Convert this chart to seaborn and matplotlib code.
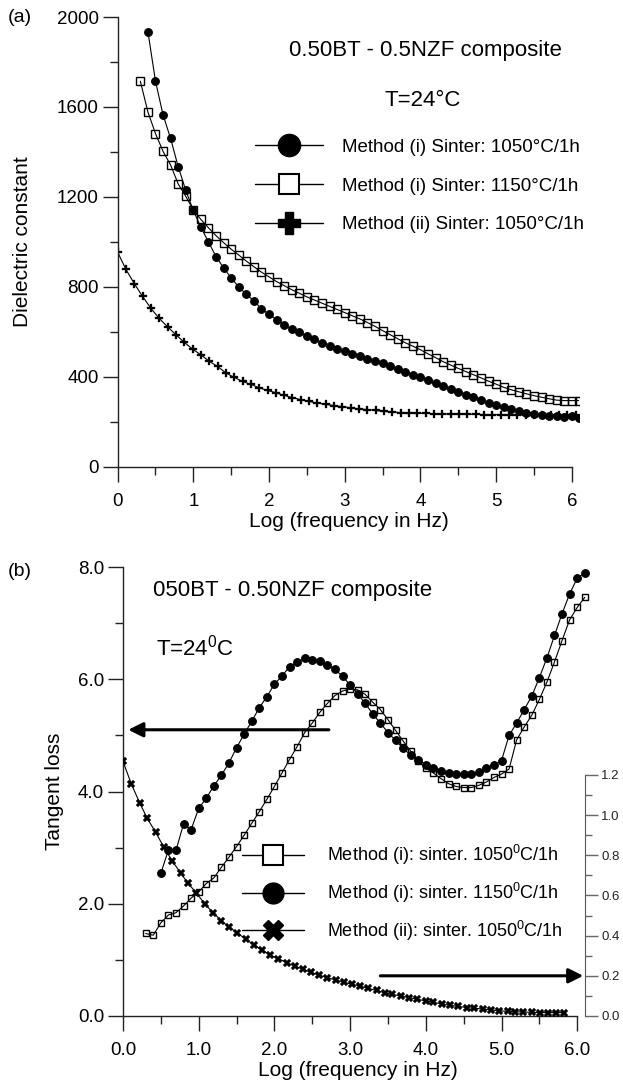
# -*- coding: utf-8 -*-
import matplotlib
matplotlib.use('Agg')
from matplotlib import pyplot as plt
from matplotlib.lines import Line2D
from matplotlib.ticker import MultipleLocator, FixedLocator, FormatStrFormatter
import seaborn as sns

sns.set_style('ticks')
plt.rcParams['font.family'] = ['Liberation Sans', 'DejaVu Sans']
plt.rcParams['mathtext.fontset'] = 'custom'
plt.rcParams['mathtext.rm'] = 'Liberation Sans'
plt.rcParams['mathtext.it'] = 'Liberation Sans'
plt.rcParams['text.color'] = 'black'
plt.rcParams['axes.labelcolor'] = 'black'
plt.rcParams['xtick.color'] = 'black'
plt.rcParams['ytick.color'] = 'black'

# ---------------- panel (a): dielectric constant ----------------
x_a1050 = [0.4, 0.5, 0.6, 0.7, 0.8, 0.9, 1.0, 1.1, 1.2, 1.3, 1.4, 1.5, 1.6, 1.7, 1.8, 1.9,
           2.0, 2.1, 2.2, 2.3, 2.4, 2.5, 2.6, 2.7, 2.8, 2.9, 3.0, 3.1, 3.2, 3.3, 3.4, 3.5,
           3.6, 3.7, 3.8, 3.9, 4.0, 4.1, 4.2, 4.3, 4.4, 4.5, 4.6, 4.7, 4.8, 4.9, 5.0, 5.1,
           5.2, 5.3, 5.4, 5.5, 5.6, 5.7, 5.8, 5.9, 6.0, 6.1]
eps_a1050 = [1935, 1715, 1565, 1460, 1335, 1230, 1140, 1065, 1000, 935, 885, 840, 800, 768,
             738, 703, 678, 655, 632, 614, 598, 582, 567, 553, 538, 526, 514, 503, 492, 481,
             470, 460, 448, 435, 423, 410, 398, 385, 372, 360, 346, 334, 322, 310, 297, 285,
             276, 266, 257, 249, 242, 237, 232, 228, 225, 224, 225, 218]

x_a1150 = [0.3, 0.4, 0.5, 0.6, 0.7, 0.8, 0.9, 1.0, 1.1, 1.2, 1.3, 1.4, 1.5, 1.6, 1.7, 1.8,
           1.9, 2.0, 2.1, 2.2, 2.3, 2.4, 2.5, 2.6, 2.7, 2.8, 2.9, 3.0, 3.1, 3.2, 3.3, 3.4,
           3.5, 3.6, 3.7, 3.8, 3.9, 4.0, 4.1, 4.2, 4.3, 4.4, 4.5, 4.6, 4.7, 4.8, 4.9, 5.0,
           5.1, 5.2, 5.3, 5.4, 5.5, 5.6, 5.7, 5.8, 5.9, 6.0, 6.1]
eps_a1150 = [1715, 1578, 1482, 1403, 1342, 1258, 1203, 1142, 1100, 1063, 1028, 997, 968, 942,
             915, 890, 866, 845, 824, 806, 788, 772, 756, 742, 728, 714, 700, 686, 672, 658,
             642, 625, 606, 588, 570, 552, 537, 521, 503, 486, 468, 453, 438, 424, 410, 396,
             381, 368, 354, 343, 334, 325, 317, 310, 303, 297, 295, 295, 295]

x_aii = [0.00, 0.11, 0.22, 0.33, 0.44, 0.55, 0.66, 0.77, 0.88, 0.99, 1.10, 1.21, 1.32, 1.43,
         1.54, 1.65, 1.76, 1.87, 1.98, 2.09, 2.20, 2.31, 2.42, 2.53, 2.64, 2.75, 2.86, 2.97,
         3.08, 3.19, 3.30, 3.41, 3.52, 3.63, 3.74, 3.85, 3.96, 4.07, 4.18, 4.29, 4.40, 4.51,
         4.62, 4.73, 4.84, 4.95, 5.06, 5.17, 5.28, 5.39, 5.50, 5.61, 5.72, 5.83, 5.94, 6.05]
eps_aii = [955, 878, 815, 758, 705, 660, 623, 588, 554, 524, 498, 470, 447, 418, 398, 380,
           367, 352, 340, 330, 318, 308, 299, 291, 284, 278, 273, 268, 263, 258, 255, 251,
           247, 244, 242, 240, 239, 238, 237, 236, 235, 235, 234, 234, 233, 233, 233, 233,
           232, 232, 232, 232, 232, 232, 232, 232]

labels_a = ['Method (i) Sinter: 1050°C/1h',
            'Method (i) Sinter: 1150°C/1h',
            'Method (ii) Sinter: 1050°C/1h']

# ---------------- panel (b): tangent loss ----------------
x_b1050 = [0.3, 0.4, 0.5, 0.6, 0.7, 0.8, 0.9, 1.0, 1.1, 1.2, 1.3, 1.4, 1.5, 1.6, 1.7, 1.8,
           1.9, 2.0, 2.1, 2.2, 2.3, 2.4, 2.5, 2.6, 2.7, 2.8, 2.9, 3.0, 3.1, 3.2, 3.3, 3.4,
           3.5, 3.6, 3.7, 3.8, 3.9, 4.0, 4.1, 4.2, 4.3, 4.4, 4.5, 4.6, 4.7, 4.8, 4.9, 5.0,
           5.1, 5.2, 5.3, 5.4, 5.5, 5.6, 5.7, 5.8, 5.9, 6.0, 6.1]
tan_b1050 = [1.47, 1.44, 1.66, 1.80, 1.84, 1.96, 2.10, 2.21, 2.36, 2.46, 2.65, 2.83, 3.02,
             3.22, 3.43, 3.64, 3.86, 4.09, 4.33, 4.57, 4.80, 5.05, 5.22, 5.41, 5.57, 5.71,
             5.79, 5.83, 5.81, 5.73, 5.59, 5.46, 5.28, 5.09, 4.90, 4.72, 4.54, 4.42, 4.33,
             4.23, 4.14, 4.09, 4.07, 4.07, 4.11, 4.17, 4.25, 4.31, 4.40, 4.92, 5.15, 5.36,
             5.64, 5.95, 6.31, 6.69, 7.06, 7.28, 7.46]

x_b1150 = [0.5, 0.6, 0.7, 0.8, 0.9, 1.0, 1.1, 1.2, 1.3, 1.4, 1.5, 1.6, 1.7, 1.8, 1.9, 2.0,
           2.1, 2.2, 2.3, 2.4, 2.5, 2.6, 2.7, 2.8, 2.9, 3.0, 3.1, 3.2, 3.3, 3.4, 3.5, 3.6,
           3.7, 3.8, 3.9, 4.0, 4.1, 4.2, 4.3, 4.4, 4.5, 4.6, 4.7, 4.8, 4.9, 5.0, 5.1, 5.2,
           5.3, 5.4, 5.5, 5.6, 5.7, 5.8, 5.9, 6.0, 6.1]
tan_b1150 = [2.54, 2.96, 2.95, 3.42, 3.32, 3.70, 3.88, 4.10, 4.29, 4.51, 4.78, 5.02, 5.25,
             5.49, 5.69, 5.91, 6.06, 6.22, 6.30, 6.38, 6.35, 6.33, 6.26, 6.18, 6.05, 5.90,
             5.74, 5.57, 5.38, 5.22, 5.05, 4.91, 4.77, 4.65, 4.57, 4.48, 4.42, 4.37, 4.33,
             4.31, 4.31, 4.32, 4.35, 4.41, 4.47, 4.55, 5.00, 5.22, 5.46, 5.70, 6.03, 6.38,
             6.78, 7.17, 7.52, 7.80, 7.90]

# method (ii) is read on the right-hand axis
x_bii = [0.00, 0.11, 0.22, 0.32, 0.43, 0.54, 0.65, 0.76, 0.86, 0.97, 1.08, 1.19, 1.30, 1.40,
         1.51, 1.62, 1.73, 1.84, 1.94, 2.05, 2.16, 2.27, 2.38, 2.48, 2.59, 2.70, 2.81, 2.92,
         3.02, 3.13, 3.24, 3.35, 3.46, 3.56, 3.67, 3.78, 3.89, 4.00, 4.10, 4.21, 4.32, 4.43,
         4.54, 4.64, 4.75, 4.86, 4.97, 5.08, 5.18, 5.29, 5.40, 5.51, 5.62, 5.72, 5.83]
tan_bii = [1.267, 1.155, 1.061, 0.984, 0.915, 0.840, 0.772, 0.712, 0.660, 0.612, 0.558,
           0.514, 0.474, 0.442, 0.414, 0.382, 0.354, 0.327, 0.304, 0.286, 0.266, 0.248,
           0.232, 0.217, 0.203, 0.191, 0.179, 0.168, 0.158, 0.149, 0.137, 0.127, 0.115,
           0.107, 0.100, 0.091, 0.083, 0.075, 0.068, 0.060, 0.053, 0.048, 0.042, 0.038,
           0.035, 0.030, 0.026, 0.023, 0.021, 0.020, 0.018, 0.017, 0.017, 0.017, 0.017]
right_ticks = [0.0, 0.2, 0.4, 0.6, 0.8, 1.0, 1.2]

labels_b = ['Method (i): sinter. 1050$^0$C/1h',
            'Method (i): sinter. 1150$^0$C/1h',
            'Method (ii): sinter. 1050$^0$C/1h']

fig = plt.figure(figsize=(6.23, 10.9), dpi=100)
ax_a = fig.add_axes([0.1888, 0.5716, 0.7412, 0.4128])
ax_b = fig.add_axes([0.1974, 0.0679, 0.7534, 0.4119])

line_kw = dict(color='black', lw=0.8, errorbar=None, sort=False, legend=False)

# panel (a)
sns.lineplot(ax=ax_a, x=x_a1150, y=eps_a1150, marker='s', markersize=5.2,
             markerfacecolor='none', markeredgecolor='black', markeredgewidth=1.0, **line_kw)
sns.lineplot(ax=ax_a, x=x_a1050, y=eps_a1050, marker='o', markersize=5.6,
             markerfacecolor='black', markeredgecolor='black', **line_kw)
sns.lineplot(ax=ax_a, x=x_aii, y=eps_aii, marker='P', markersize=6.2,
             markerfacecolor='black', markeredgecolor='black', markeredgewidth=0.2, **line_kw)

ax_a.set_xlim(0, 6.1)
ax_a.set_ylim(0, 2000)
ax_a.spines['top'].set_visible(False)
ax_a.spines['right'].set_visible(False)
ax_a.spines['bottom'].set_bounds(0, 6)
ax_a.xaxis.set_major_locator(MultipleLocator(1))
ax_a.xaxis.set_minor_locator(MultipleLocator(0.5))
ax_a.yaxis.set_major_locator(MultipleLocator(400))
ax_a.yaxis.set_minor_locator(MultipleLocator(200))
ax_a.set_xlabel('Log (frequency in Hz)', fontsize=15, labelpad=2)
ax_a.set_ylabel('Dielectric constant', fontsize=15, labelpad=18)

h_a = [Line2D([], [], color='black', lw=1, marker='o', ms=16, mfc='black', mec='black'),
       Line2D([], [], color='black', lw=1, marker='s', ms=15, mfc='white', mec='black', mew=1.5),
       Line2D([], [], color='black', lw=1, marker='P', ms=16, mfc='black', mec='black')]
ax_a.legend(h_a, labels_a, loc='center left', bbox_to_anchor=(255 / 623, 1 - 186 / 1090),
            bbox_transform=fig.transFigure, frameon=False, fontsize=13.5, handlelength=3.6,
            handletextpad=1.05, labelspacing=1.15, borderpad=0, borderaxespad=0)
ax_a.text(2.27, 1853, '0.50BT - 0.5NZF composite', fontsize=16, va='center')
ax_a.text(3.53, 1631, 'T=24°C', fontsize=16, va='center')

# panel (b)
sns.lineplot(ax=ax_b, x=x_b1050, y=tan_b1050, marker='s', markersize=5.0,
             markerfacecolor='none', markeredgecolor='black', markeredgewidth=1.0, **line_kw)
sns.lineplot(ax=ax_b, x=x_b1150, y=tan_b1150, marker='o', markersize=5.6,
             markerfacecolor='black', markeredgecolor='black', **line_kw)

ax_b.set_xlim(0, 6.2)
ax_b.set_ylim(0, 8)
ax_b.spines['top'].set_visible(False)
ax_b.spines['right'].set_visible(False)
ax_b.spines['bottom'].set_bounds(0, 6)
ax_b.xaxis.set_major_locator(MultipleLocator(1))
ax_b.xaxis.set_minor_locator(MultipleLocator(0.5))
ax_b.xaxis.set_major_formatter(FormatStrFormatter('%.1f'))
ax_b.yaxis.set_major_locator(MultipleLocator(2))
ax_b.yaxis.set_minor_locator(MultipleLocator(1))
ax_b.yaxis.set_major_formatter(FormatStrFormatter('%.1f'))
ax_b.set_xlabel('Log (frequency in Hz)', fontsize=15, labelpad=2)
ax_b.set_ylabel('Tangent loss', fontsize=15, labelpad=10)

ax_r = ax_b.twinx()
sns.lineplot(ax=ax_r, x=x_bii, y=tan_bii, marker='X', markersize=5.6,
             markerfacecolor='black', markeredgecolor='black', markeredgewidth=0.2, **line_kw)
ax_r.set_ylim(0, 8 * 0.2793)
for s in ['top', 'left', 'bottom']:
    ax_r.spines[s].set_visible(False)
ax_r.spines['right'].set_bounds(0, 1.2)
ax_r.spines['right'].set_position(('data', 6.1))
ax_r.spines['right'].set_color('#555555')
ax_r.yaxis.set_major_locator(FixedLocator(right_ticks))
ax_r.yaxis.set_minor_locator(FixedLocator([0.1, 0.3, 0.5, 0.7, 0.9, 1.1]))
ax_r.yaxis.set_major_formatter(FormatStrFormatter('%.1f'))
ax_r.tick_params(axis='y', which='both', direction='out', colors='#666666',
                 labelcolor='#222222', labelsize=9.5, width=1)
ax_r.tick_params(axis='y', which='major', length=9, pad=3)
ax_r.tick_params(axis='y', which='minor', length=5)
ax_r.set_ylabel('')

h_b = [Line2D([], [], color='black', lw=1, marker='s', ms=14, mfc='white', mec='black', mew=1.5),
       Line2D([], [], color='black', lw=1, marker='o', ms=15, mfc='black', mec='black'),
       Line2D([], [], color='black', lw=1, marker='X', ms=15, mfc='black', mec='black')]
ax_r.legend(h_b, labels_b, loc='center left', bbox_to_anchor=(242 / 623, 1 - 893 / 1090),
            bbox_transform=fig.transFigure, frameon=False, fontsize=13, handlelength=3.45,
            handletextpad=1.25, labelspacing=0.75, borderpad=0, borderaxespad=0)

ax_b.text(0.40, 7.58, '050BT - 0.50NZF composite', fontsize=16, va='center')
ax_b.text(0.44, 6.57, 'T=24$^0$C', fontsize=16, va='center')

arrow_kw = dict(arrowstyle='-|>', color='black', lw=2.2, mutation_scale=22,
                shrinkA=0, shrinkB=0)
ax_b.annotate('', xy=(0.07, 5.1), xytext=(2.72, 5.1), arrowprops=arrow_kw)
ax_r.annotate('', xy=(6.08, 0.2), xytext=(3.4, 0.2), arrowprops=arrow_kw)

for ax in (ax_a, ax_b):
    for s in ['left', 'bottom']:
        ax.spines[s].set_linewidth(1.0)
        ax.spines[s].set_color('#222222')
    ax.tick_params(axis='both', which='both', direction='out', color='#222222',
                   labelsize=13.5, width=1)
    ax.tick_params(axis='both', which='major', length=10.5)
    ax.tick_params(axis='both', which='minor', length=5.5)
    ax.tick_params(axis='y', which='major', pad=3)
    ax.tick_params(axis='x', which='major', pad=8)

ax_a.spines['left'].set_bounds(0, 2000)
ax_b.spines['left'].set_bounds(0, 8)

fig.text(8 / 623, 1 - 17 / 1090, '(a)', fontsize=14, va='center')
fig.text(8 / 623, 1 - 572 / 1090, '(b)', fontsize=14, va='center')

plt.savefig('out.png', dpi=100)
